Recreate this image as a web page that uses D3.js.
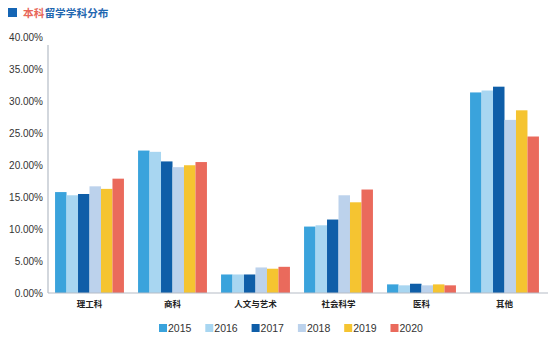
<!DOCTYPE html>
<html>
<head>
<meta charset="utf-8">
<script src="https://cdn.jsdelivr.net/npm/d3@7"></script>
<style>
  html, body { margin: 0; padding: 0; background: #fff; }
  svg { display: block; font-family: "Noto Sans CJK SC", "Noto Sans", sans-serif; }
</style>
</head>
<body>
<svg id="chart" width="554" height="344"></svg>
<script>
// Share of undergraduate study-abroad students by field, 2015–2020 (%)
const categories = ["理工科", "商科", "人文与艺术", "社会科学", "医科", "其他"];
const years = ["2015", "2016", "2017", "2018", "2019", "2020"];
const v2015 = [15.8, 22.3, 2.9, 10.4, 1.35, 31.4];
const v2016 = [15.3, 22.1, 2.9, 10.6, 1.2, 31.7];
const v2017 = [15.5, 20.6, 2.9, 11.5, 1.45, 32.3];
const v2018 = [16.7, 19.7, 4.0, 15.3, 1.2, 27.1];
const v2019 = [16.3, 20.0, 3.8, 14.2, 1.35, 28.6];
const v2020 = [17.9, 20.5, 4.1, 16.2, 1.2, 24.5];
const yTicks = [0, 5, 10, 15, 20, 25, 30, 35, 40];
const colors = ["#3aa3dc", "#a8d6f1", "#0f5ea8", "#bcd2ec", "#f5c431", "#ea6a5c"];

const seriesValues = [v2015, v2016, v2017, v2018, v2019, v2020];
const svg = d3.select("#chart");

// Title
const title = svg.append("g");
title.append("rect").attr("x", 8).attr("y", 8).attr("width", 9).attr("height", 9).attr("fill", "#1565b4");
const tt = title.append("text").attr("x", 23).attr("y", 16.5)
  .attr("font-size", 10.7).attr("font-weight", "bold");
tt.append("tspan").attr("fill", "#e8675a").text("本科");
tt.append("tspan").attr("fill", "#1f67b0").text("留学学科分布");

// Scales
const x0 = d3.scaleBand().domain(categories).range([48, 546]).paddingInner(0.17).paddingOuter(0.085);
const x1 = d3.scaleBand().domain(years).range([0, x0.bandwidth()]).padding(0);
const y = d3.scaleLinear().domain([0, 40]).range([293, 37.5]);

// Y tick labels
const yAxis = d3.axisLeft(y).tickValues(yTicks).tickSize(0).tickPadding(6)
  .tickFormat(d => d.toFixed(2) + "%");
const ya = svg.append("g").attr("transform", "translate(43,0)").call(yAxis);
ya.select(".domain").remove();
ya.selectAll("text").attr("font-size", 10).attr("fill", "#333")
  .attr("font-family", "Liberation Sans, Arial, sans-serif").attr("dx", 6);

// Bars
const groups = svg.append("g").selectAll("g").data(categories).join("g")
  .attr("transform", d => `translate(${x0(d)},0)`);
groups.selectAll("rect")
  .data((c, ci) => years.map((yr, si) => ({ yr, si, v: seriesValues[si][ci] })))
  .join("rect")
  .attr("x", d => x1(d.yr))
  .attr("width", x1.bandwidth())
  .attr("y", d => y(d.v))
  .attr("height", d => y(0) - y(d.v))
  .attr("fill", d => colors[d.si]);

// Axis lines
svg.append("line").attr("x1", 48).attr("x2", 48).attr("y1", 45).attr("y2", 293)
  .attr("stroke", "#b5bcc6").attr("stroke-width", 1.2);
const xAxis = d3.axisBottom(x0).tickSize(0).tickPadding(8);
const xa = svg.append("g").attr("transform", "translate(0,293)").call(xAxis);
xa.select(".domain").attr("stroke", "#b5bcc6").attr("stroke-width", 1.2).attr("d", "M48,0H548");
xa.selectAll("text").attr("font-size", 8.5).attr("font-weight", "bold").attr("fill", "#222")
  .attr("font-family", "Noto Sans CJK SC, sans-serif");

// Legend
const legend = svg.append("g").selectAll("g").data(years).join("g")
  .attr("transform", (d, i) => `translate(${159 + i * 46.3},324)`);
legend.append("rect").attr("width", 8).attr("height", 8).attr("fill", (d, i) => colors[i]);
legend.append("text").attr("x", 9).attr("y", 8).attr("font-size", 10.5).attr("fill", "#333")
  .attr("font-family", "Liberation Sans, Arial, sans-serif").text(d => d);
</script>
</body>
</html>
